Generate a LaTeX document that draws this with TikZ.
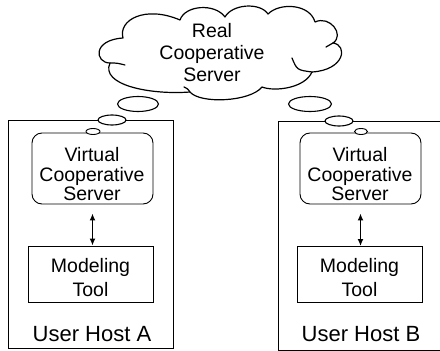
\documentclass[tikz,border=0pt]{standalone}
\usepackage{fontspec}
\setmainfont{Liberation Sans}
\usetikzlibrary{arrows.meta}
\begin{document}
\begin{tikzpicture}[x=1pt,y=-1pt,
  hostbox/.style={draw, line width=0.8pt, inner sep=0pt},
  serverbox/.style={draw, line width=0.9pt, rounded corners=10pt, inner sep=0pt,
    minimum width=121pt, minimum height=71pt},
  toolbox/.style={draw, line width=0.9pt, inner sep=0pt,
    minimum width=125pt, minimum height=56pt},
  boxtext/.style={inner sep=0pt, align=center},
  hosttext/.style={inner sep=0pt, anchor=base, font=\fontsize{22}{24}\selectfont},
  cloudline/.style={line width=1.2pt, line join=round, line cap=round},
  bubble/.style={draw, fill=white, line width=1.1pt},
  dblarrow/.style={line width=1.5pt, {Latex[length=7pt,width=6pt]}-{Latex[length=7pt,width=6pt]}}
]
\useasboundingbox (0,0) rectangle (440,351);
\begin{scope}
\clip (0,0) rectangle (440,351);

% cloud of the real server
\draw[cloudline] (110,63)
  .. controls (95,63) and (92,40) .. (123,38)
  .. controls (118,20) and (145,5) .. (180,20)
  .. controls (185,5) and (215,3) .. (225,17)
  .. controls (232,4) and (260,2) .. (268,14)
  .. controls (280,2) and (310,4) .. (315,22)
  .. controls (330,15) and (345,35) .. (333,43)
  .. controls (348,45) and (345,70) .. (312,72)
  .. controls (305,88) and (275,92) .. (262,87)
  .. controls (250,102) and (200,104) .. (190,92)
  .. controls (150,95) and (100,85) .. (110,63) -- cycle;
% inner strokes at the puff joints
\draw[cloudline] (110,63) .. controls (117,63) .. (125,65);
\draw[cloudline] (333,43) .. controls (330,45) .. (326,47);
\draw[cloudline] (312,72) .. controls (297,70) .. (292,58);
\draw[cloudline] (190,92) .. controls (188,89) .. (184,87);
\node[boxtext, font=\fontsize{19.5}{22}\selectfont] (realserver) at (212,53)
  {Real\\Cooperative\\Server};

% user hosts
\node[hostbox, minimum width=165pt, minimum height=228pt] (hostA) at (90.5,234) {};
\node[hostbox, minimum width=182pt, minimum height=229pt] (hostB) at (369,235.5) {};

% thought bubbles rising from the hosts
\draw[bubble] (138,104) ellipse [x radius=20.5pt, y radius=7.5pt];
\draw[bubble] (112,120) ellipse [x radius=14pt, y radius=5pt];
\draw[bubble] (310,104) ellipse [x radius=21.5pt, y radius=7.5pt];
\draw[bubble] (339,121) ellipse [x radius=14pt, y radius=5pt];

% host A
\node[serverbox] (vcsA) at (92.5,168.5) {};
\node[toolbox] (mtA) at (90.5,274) {};
\draw[bubble, line width=0.9pt] (93,131.5) ellipse [x radius=7pt, y radius=3pt];
\node[boxtext, font=\fontsize{19.5}{19.5}\selectfont] (vcsAtext) at (92,174.5)
  {Virtual\\Cooperative\\Server};
\node[boxtext, font=\fontsize{19.5}{24}\selectfont] (mtAtext) at (90.5,278)
  {Modeling\\Tool};
\node[hosttext] (hostAlabel) at (92,341) {User Host A};
\draw[dblarrow, shorten <=9pt] (vcsA.south) -- (vcsA.south |- mtA.north);

% host B
\node[serverbox] (vcsB) at (360.5,168.5) {};
\node[toolbox] (mtB) at (359.5,274.5) {};
\draw[bubble, line width=0.9pt] (361,131.5) ellipse [x radius=6.5pt, y radius=3pt];
\node[boxtext, font=\fontsize{19.5}{19.5}\selectfont] (vcsBtext) at (360,174.5)
  {Virtual\\Cooperative\\Server};
\node[boxtext, font=\fontsize{19.5}{24}\selectfont] (mtBtext) at (359.5,278)
  {Modeling\\Tool};
\node[hosttext] (hostBlabel) at (361,341) {User Host B};
\draw[dblarrow, shorten <=9pt] (vcsB.south) -- (vcsB.south |- mtB.north);
\end{scope}
\end{tikzpicture}
\end{document}
